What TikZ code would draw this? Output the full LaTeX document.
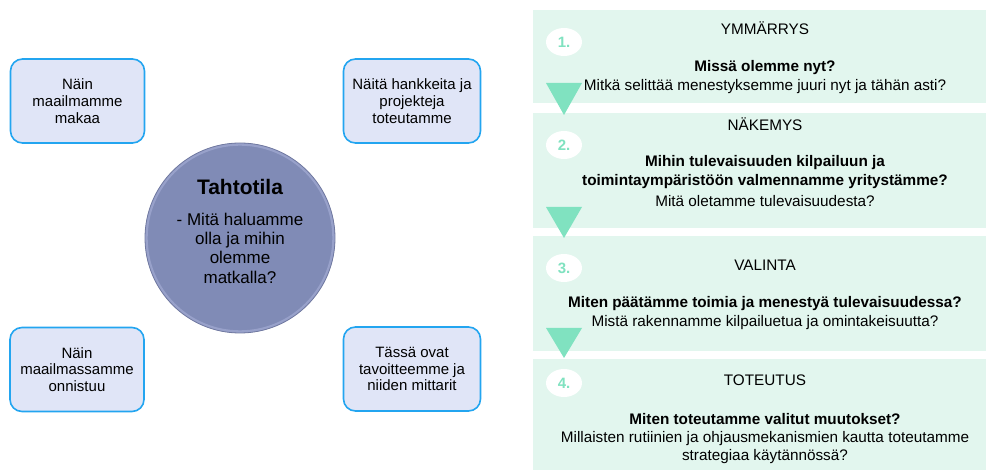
\documentclass[tikz,border=0pt]{standalone}
\usepackage{fontspec}
\setmainfont{Liberation Sans}
\usetikzlibrary{shapes.geometric}
\definecolor{boxfill}{RGB}{224,229,247}
\definecolor{boxline}{RGB}{35,165,240}
\definecolor{goalfill}{RGB}{128,139,182}
\definecolor{goalrim}{RGB}{152,161,202}
\definecolor{goalline}{RGB}{112,121,160}
\definecolor{panelfill}{RGB}{226,246,238}
\definecolor{mint}{RGB}{128,226,192}
\tikzset{
  sidebox/.style={draw=boxline, fill=boxfill, line width=1.6bp, rounded corners=12bp,
    minimum width=137bp, minimum height=84bp, inner sep=0pt, align=center,
    font=\fontsize{15bp}{16.8bp}\selectfont},
  goal/.style={circle, fill=goalfill, minimum size=190bp, inner sep=0pt},
  panel/.style={fill=panelfill, draw=none, minimum width=453bp, inner sep=0pt},
  numbadge/.style={ellipse, fill=white, minimum width=36bp, minimum height=28bp,
    inner sep=0pt, text=mint, font=\fontsize{15bp}{18bp}\selectfont\bfseries},
  arrowtri/.style={fill=mint, draw=none},
  head/.style={inner sep=0pt, font=\fontsize{15.3bp}{18bp}\selectfont},
  question/.style={inner sep=0pt, align=center, font=\fontsize{15.3bp}{19bp}\selectfont\bfseries},
  note/.style={inner sep=0pt, align=center, font=\fontsize{15.3bp}{17.5bp}\selectfont},
}
\begin{document}
\begin{tikzpicture}[x=1bp, y=-1bp]
\useasboundingbox (0,0) rectangle (986,470);

% central goal circle with a soft bevelled rim
\node[goal] (goal) at (240,238) {};
\draw[goalrim, line width=2.6bp] (goal.center) circle[radius=93.6];
\draw[goalline, line width=0.8bp] (goal.center) circle[radius=95];
\node[inner sep=0pt, font=\fontsize{21bp}{24bp}\selectfont\bfseries] (goaltitle) at (240,187) {Tahtotila};
\node[inner sep=0pt, align=center, font=\fontsize{17bp}{19.3bp}\selectfont] (goaltext) at (240,248)
  {- Mitä haluamme\\olla ja mihin\\olemme\\matkalla?};

% four corner boxes
\node[sidebox, minimum width=134bp] (tl) at (77.5,101) {Näin\\maailmamme\\makaa};
\node[sidebox] (tr) at (412,101) {Näitä hankkeita ja\\projekteja\\toteutamme};
\node[sidebox, minimum width=134bp] (bl) at (77,369.5) {Näin\\maailmassamme\\onnistuu};
\node[sidebox] (br) at (412,369) {Tässä ovat\\tavoitteemme ja\\niiden mittarit};

% step panels
\node[panel, minimum height=93bp] (p1) at (759.5,56.5) {};
\node[panel, minimum height=115bp] (p2) at (759.5,170.5) {};
\node[panel, minimum height=115bp] (p3) at (759.5,293.5) {};
\node[panel, minimum height=111bp] (p4) at (759.5,414.5) {};

% down arrows between panels
\fill[arrowtri] (546,83) -- (582,83) -- (564,115) -- cycle;
\fill[arrowtri] (546,207) -- (582,207) -- (564,238) -- cycle;
\fill[arrowtri] (546,328) -- (582,328) -- (564,358) -- cycle;

% step numbers
\node[numbadge] (n1) at (564,42) {1.};
\node[numbadge] (n2) at (564,145) {2.};
\node[numbadge] (n3) at (564,268) {3.};
\node[numbadge] (n4) at (564,383) {4.};

% step 1
\node[head] (h1) at (765,28) {YMMÄRRYS};
\node[question] (q1) at (765,68) {Missä olemme nyt?};
\node[note] (t1) at (765,87) {Mitkä selittää menestyksemme juuri nyt ja tähän asti?};

% step 2
\node[head] (h2) at (765,124) {NÄKEMYS};
\node[question] (q2) at (765,172.5) {Mihin tulevaisuuden kilpailuun ja\\toimintaympäristöön valmennamme yritystämme?};
\node[note] (t2) at (765,201) {Mitä oletamme tulevaisuudesta?};

% step 3
\node[head] (h3) at (765,265) {VALINTA};
\node[question] (q3) at (765,304) {Miten päätämme toimia ja menestyä tulevaisuudessa?};
\node[note] (t3) at (765,323) {Mistä rakennamme kilpailuetua ja omintakeisuutta?};

% step 4
\node[head] (h4) at (765,380) {TOTEUTUS};
\node[question] (q4) at (765,419) {Miten toteutamme valitut muutokset?};
\node[note] (t4) at (765,447.5) {Millaisten rutiinien ja ohjausmekanismien kautta toteutamme\\strategiaa käytännössä?};
\end{tikzpicture}
\end{document}
